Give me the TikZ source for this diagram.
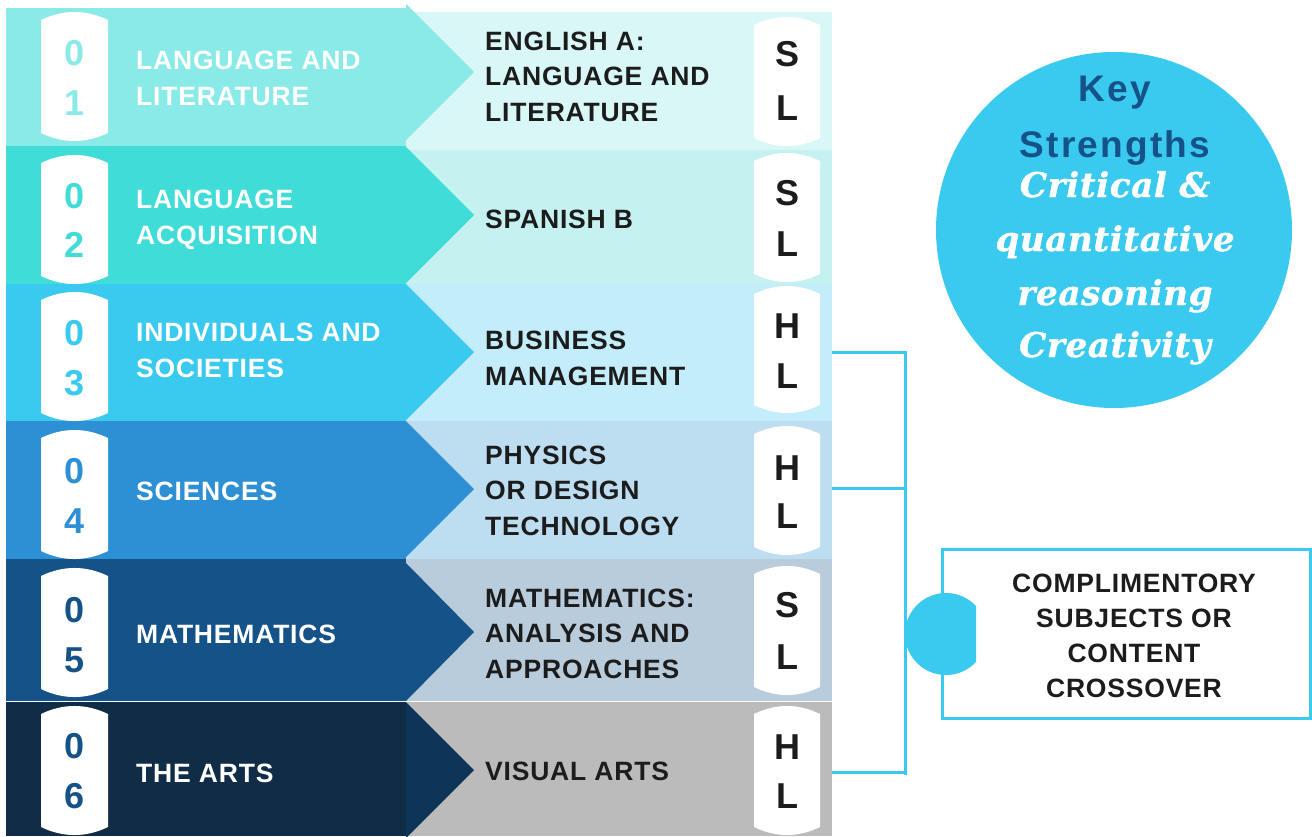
\documentclass[tikz,border=0pt]{standalone}
\usepackage{fontspec}
\setmainfont{Liberation Sans}
\newfontfamily\labfont[LetterSpace=3]{Liberation Sans}
\newfontfamily\keyfont[LetterSpace=6]{Liberation Sans}
\newfontfamily\slabfont[LetterSpace=2,BoldItalicFeatures={FakeBold=1.2}]{DejaVu Serif}
\definecolor{cA}{HTML}{89EAE8}
\definecolor{cAl}{HTML}{D9F7F7}
\definecolor{cB}{HTML}{40DCD8}
\definecolor{cBl}{HTML}{C5F2F0}
\definecolor{cC}{HTML}{3AC9EF}
\definecolor{cCl}{HTML}{C3EDFA}
\definecolor{cD}{HTML}{2D90D5}
\definecolor{cDl}{HTML}{BDDDF1}
\definecolor{cE}{HTML}{155288}
\definecolor{cEl}{HTML}{B8CCDC}
\definecolor{cF}{HTML}{112C47}
\definecolor{cFa}{HTML}{0C3558}
\definecolor{cFl}{HTML}{BBBBBB}
\definecolor{inkdark}{HTML}{1C1C1C}
\definecolor{keyblue}{HTML}{155288}
\definecolor{linecol}{HTML}{3AC9EF}
\newcommand\pillshape[4]{%
  \fill[white] (#1,#3+8) .. controls (#1+22,#3-2.7) and (#2-22,#3-2.7) .. (#2,#3+8)
    -- (#2,#4-8) .. controls (#2-22,#4+2.7) and (#1+22,#4+2.7) .. (#1,#4-8) -- cycle;}
\begin{document}
\begin{tikzpicture}[x=1pt,y=-1pt,
  panel/.style={rectangle,inner sep=0pt,outer sep=0pt,minimum width=426pt,anchor=north west},
  lefttxt/.style={anchor=base west,inner sep=0pt,align=left,text=white,
     font=\labfont\bfseries\fontsize{26.5}{35.5}\selectfont},
  righttxt/.style={anchor=base west,inner sep=0pt,align=left,text=inkdark,
     font=\labfont\bfseries\fontsize{26.5}{35.5}\selectfont},
  digit/.style={anchor=base,inner sep=0pt,font=\bfseries\fontsize{36}{36}\selectfont},
  lvl/.style={anchor=base,inner sep=0pt,text=inkdark,font=\bfseries\fontsize{36}{36}\selectfont},
  conn/.style={draw=linecol,line width=3pt},
  keytxt/.style={anchor=base,inner sep=0pt,text=keyblue,font=\keyfont\bfseries\fontsize{37}{37}\selectfont},
  strtxt/.style={anchor=base,inner sep=0pt,text=white,font=\slabfont\bfseries\itshape\fontsize{34}{34}\selectfont}]
\useasboundingbox (0,0) rectangle (1312,836);
\fill[white] (0,0) rectangle (1312,836);

% right panels
\node[panel,fill=cAl,minimum height=138pt] (p1) at (406,12) {};
\node[panel,fill=cBl,minimum height=134pt] (p2) at (406,150) {};
\node[panel,fill=cCl,minimum height=137pt] (p3) at (406,284) {};
\node[panel,fill=cDl,minimum height=138pt] (p4) at (406,421) {};
\node[panel,fill=cEl,minimum height=142pt] (p5) at (406,559) {};
\node[panel,fill=cFl,minimum height=134pt] (p6) at (406,702) {};

% left bands with arrows
\fill[cA] (6,8) rectangle (406,146);
\fill[cA] (406,4) -- (474,72) -- (406,140) -- cycle;
\fill[cB] (6,146) rectangle (406,284);
\fill[cB] (406,147) -- (474,215) -- (406,283) -- cycle;
\fill[cC] (6,284) rectangle (406,421);
\fill[cC] (406,284) -- (474,352) -- (406,420) -- cycle;
\fill[cD] (6,421) rectangle (406,559);
\fill[cD] (406,421) -- (474,489) -- (406,557) -- cycle;
\fill[cE] (6,559) rectangle (406,701);
\fill[cE] (406,563) -- (474,632) -- (406,701) -- cycle;
\fill[cF] (6,702) rectangle (406,836);
\fill[cFa] (406,702) -- (474,770) -- (406,838) -- cycle;

% pills
\pillshape{41}{108}{12}{141}
\pillshape{41}{108}{155}{284}
\pillshape{41}{108}{292}{421}
\pillshape{41}{108}{430}{559}
\pillshape{41}{108}{568}{697}
\pillshape{41}{108}{706}{835}
\pillshape{754}{820}{17}{146}
\pillshape{754}{820}{153}{282}
\pillshape{754}{820}{286}{413}
\pillshape{754}{820}{426}{555}
\pillshape{754}{820}{566}{695}
\pillshape{754}{820}{706}{835}

% digits
\node[digit,text=cA] (d1a) at (74.5,65) {0};
\node[digit,text=cA] (d1b) at (74.5,115) {1};
\node[digit,text=cB] (d2a) at (74.5,208) {0};
\node[digit,text=cB] (d2b) at (74.5,257) {2};
\node[digit,text=cC] (d3a) at (74.5,345) {0};
\node[digit,text=cC] (d3b) at (74.5,395) {3};
\node[digit,text=cD] (d4a) at (74.5,483) {0};
\node[digit,text=cD] (d4b) at (74.5,533) {4};
\node[digit,text=cE] (d5a) at (74.5,622) {0};
\node[digit,text=cE] (d5b) at (74.5,672) {5};
\node[digit,text=cE] (d6a) at (74.5,758) {0};
\node[digit,text=cE] (d6b) at (74.5,808) {6};

% left labels (anchor at baseline of last line)
\node[lefttxt] (g1) at (136,105) {LANGUAGE AND\\LITERATURE};
\node[lefttxt] (g2) at (136,244) {LANGUAGE\\ACQUISITION};
\node[lefttxt] (g3) at (136,377) {INDIVIDUALS AND\\SOCIETIES};
\node[lefttxt] (g4) at (136,500) {SCIENCES};
\node[lefttxt] (g5) at (136,643) {MATHEMATICS};
\node[lefttxt] (g6) at (136,782) {THE ARTS};

% right labels (anchor at baseline of last line)
\node[righttxt] (s1) at (485,121) {ENGLISH A:\\LANGUAGE AND\\LITERATURE};
\node[righttxt] (s2) at (485,228) {SPANISH B};
\node[righttxt] (s3) at (485,385) {BUSINESS\\MANAGEMENT};
\node[righttxt] (s4) at (485,535) {PHYSICS\\OR DESIGN\\TECHNOLOGY};
\node[righttxt] (s5) at (485,678) {MATHEMATICS:\\ANALYSIS AND\\APPROACHES};
\node[righttxt] (s6) at (485,780) {VISUAL ARTS};

% levels
\node[lvl] (v1a) at (787,66) {S};
\node[lvl] (v1b) at (787,120) {L};
\node[lvl] (v2a) at (787,205) {S};
\node[lvl] (v2b) at (787,256) {L};
\node[lvl] (v3a) at (787,338) {H};
\node[lvl] (v3b) at (787,388) {L};
\node[lvl] (v4a) at (787,480) {H};
\node[lvl] (v4b) at (787,528) {L};
\node[lvl] (v5a) at (787,617) {S};
\node[lvl] (v5b) at (787,669) {L};
\node[lvl] (v6a) at (787,759) {H};
\node[lvl] (v6b) at (787,808) {L};

% key strengths circle
\node[circle,fill=linecol,minimum size=356pt,inner sep=0pt] (ks) at (1114,230) {};
\node[keytxt] (k1) at (1115,101) {Key};
\node[keytxt] (k2) at (1115,157) {Strengths};
\node[strtxt] (t1) at (1115,197) {Critical \&};
\node[strtxt] (t2) at (1115,251) {quantitative};
\node[strtxt] (t3) at (1115,305) {reasoning};
\node[strtxt] (t4) at (1115,357) {Creativity};

% bracket connectors
\coordinate (bt) at (905,351);
\coordinate (bb) at (905,775);
\draw[conn] (bt) -- (bb);
\draw[conn] (p3.east |- 0,352) -- (905,352);
\draw[conn] (p4.east |- 0,488) -- (905,488);
\draw[conn] (p6.east |- 0,772) -- (905,772);

% complementary box
\node[rectangle,draw=linecol,line width=3pt,minimum width=368pt,minimum height=169pt,inner sep=0pt] (cb) at (1126,633.5) {};
\begin{scope}
  \clip (900,580) rectangle (976,690);
  \node[circle,fill=linecol,minimum size=82pt,inner sep=0pt] (hc) at (946,634) {};
\end{scope}
\node[anchor=base,inner sep=0pt,align=center,text=inkdark,
  font=\labfont\bfseries\fontsize{26.5}{35}\selectfont] (cbt) at (1134,697)
  {COMPLIMENTORY\\SUBJECTS OR\\CONTENT\\CROSSOVER};
\end{tikzpicture}
\end{document}
